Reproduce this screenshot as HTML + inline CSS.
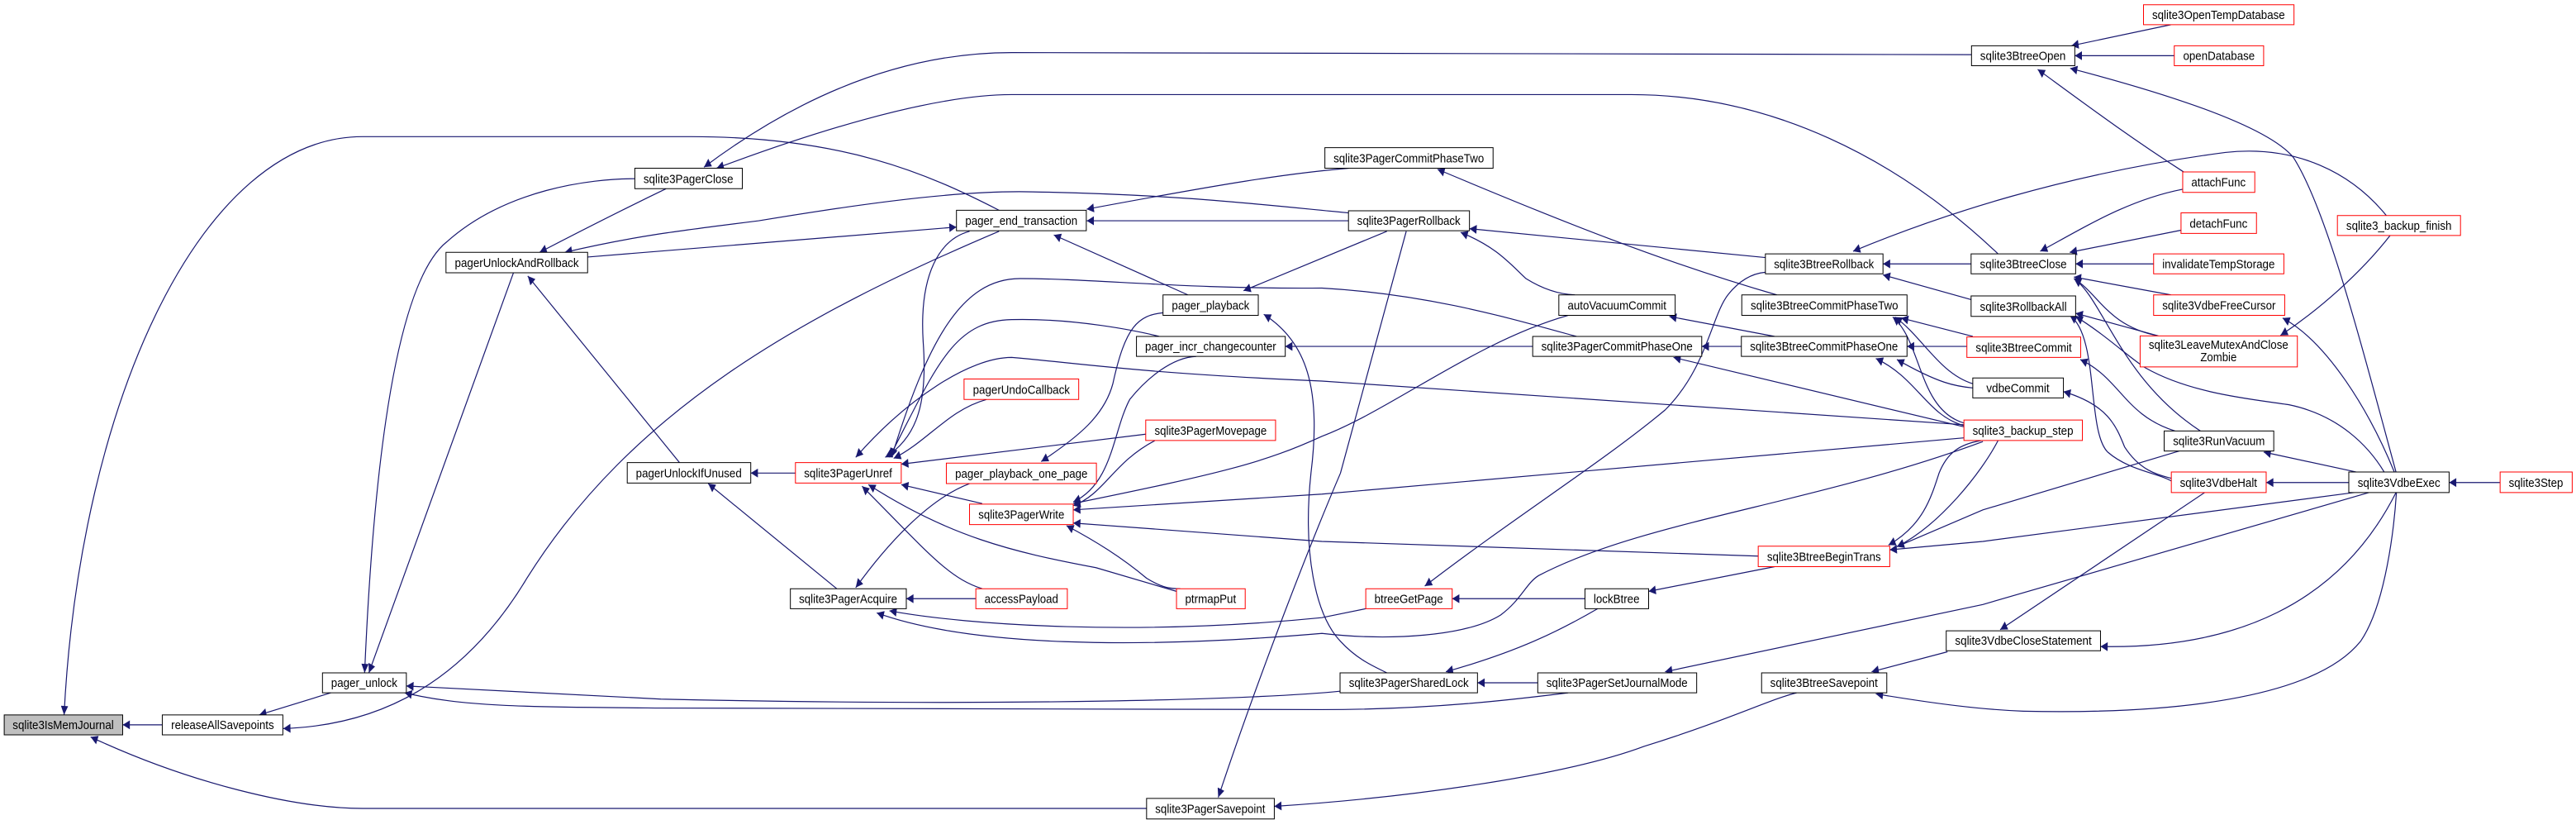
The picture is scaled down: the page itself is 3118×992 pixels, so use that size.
<!DOCTYPE html>
<html><head><meta charset="utf-8"><style>
html,body{margin:0;padding:0;background:#fff;}
svg{display:block;}
text{font-family:"Liberation Sans",sans-serif;font-size:23px;fill:#000;}
</style></head><body>
<svg width="3118" height="992" viewBox="0 0 6111 1560" preserveAspectRatio="none" xmlns="http://www.w3.org/2000/svg">
<defs>
<marker id="a" viewBox="0 0 10 10" refX="10" refY="5" markerUnits="userSpaceOnUse" markerWidth="24" markerHeight="17" orient="auto-start-reverse">
<path d="M0,0 L10,5 L0,10 z" fill="#191970"/>
</marker>
</defs>
<g fill="none" stroke="#191970" stroke-width="1.2" vector-effect="non-scaling-stroke" marker-start="url(#a)">
<path vector-effect="non-scaling-stroke" d="M291,1379 L385,1379"/>
<path vector-effect="non-scaling-stroke" d="M152,1360 C190,760 480,260 860,260 L1640,260 C2000,260 2200,330 2370,400"/>
<path vector-effect="non-scaling-stroke" d="M215,1402 C450,1490 700,1538 860,1538 L2720,1538"/>
<path vector-effect="non-scaling-stroke" d="M615,1360 L785,1318"/>
<path vector-effect="non-scaling-stroke" d="M672,1386 C900,1380 1100,1300 1250,1100 C1500,780 1900,600 2370,440"/>
<path vector-effect="non-scaling-stroke" d="M875,1280 L1218,519"/>
<path vector-effect="non-scaling-stroke" d="M865,1280 C880,1000 920,550 1060,460 C1200,360 1400,340 1506,340"/>
<path vector-effect="non-scaling-stroke" d="M964,1305 L1568,1330 C2400,1345 3000,1330 3179,1315"/>
<path vector-effect="non-scaling-stroke" d="M960,1318 C1100,1345 1250,1345 1568,1347 L3136,1350 C3400,1350 3600,1330 3720,1318"/>
<path vector-effect="non-scaling-stroke" d="M1280,480 C1400,430 1500,390 1580,359"/>
<path vector-effect="non-scaling-stroke" d="M1340,480 C1500,450 1600,440 1800,420 C2100,380 2300,362 2450,365 C2800,370 3000,390 3199,405"/>
<path vector-effect="non-scaling-stroke" d="M2269,432 L1394,489"/>
<path vector-effect="non-scaling-stroke" d="M1252,525 L1612,880"/>
<path vector-effect="non-scaling-stroke" d="M1670,318 C1850,210 2100,100 2400,100 L4677,104"/>
<path vector-effect="non-scaling-stroke" d="M1700,320 C1900,260 2200,180 2400,180 L3870,180 C4200,180 4500,300 4740,483"/>
<path vector-effect="non-scaling-stroke" d="M2578,398 C2900,350 3050,330 3200,320"/>
<path vector-effect="non-scaling-stroke" d="M2578,420 L3199,420"/>
<path vector-effect="non-scaling-stroke" d="M2500,447 L2818,561"/>
<path vector-effect="non-scaling-stroke" d="M2100,870 C2180,830 2200,760 2190,650 C2180,520 2230,455 2300,440"/>
<path vector-effect="non-scaling-stroke" d="M1781,900 L1887,900"/>
<path vector-effect="non-scaling-stroke" d="M1680,920 L1985,1120"/>
<path vector-effect="non-scaling-stroke" d="M3486,435 L4188,490"/>
<path vector-effect="non-scaling-stroke" d="M3465,442 C3550,470 3580,500 3620,530 C3660,550 3700,560 3736,561"/>
<path vector-effect="non-scaling-stroke" d="M2950,553 L3290,440"/>
<path vector-effect="non-scaling-stroke" d="M2890,1517 C2980,1300 3100,1050 3180,900 L3336,440"/>
<path vector-effect="non-scaling-stroke" d="M2998,598 C3100,650 3135,740 3110,900 C3090,1050 3120,1170 3180,1220 C3220,1255 3260,1268 3290,1280"/>
<path vector-effect="non-scaling-stroke" d="M2470,878 C2560,830 2620,790 2640,730 C2670,620 2700,600 2759,595"/>
<path vector-effect="non-scaling-stroke" d="M3049,659 L3636,659"/>
<path vector-effect="non-scaling-stroke" d="M4037,659 L4131,659"/>
<path vector-effect="non-scaling-stroke" d="M3410,322 C3700,420 3950,500 4215,561"/>
<path vector-effect="non-scaling-stroke" d="M3960,602 L4210,640"/>
<path vector-effect="non-scaling-stroke" d="M4467,502 L4676,502"/>
<path vector-effect="non-scaling-stroke" d="M4467,523 L4676,570"/>
<path vector-effect="non-scaling-stroke" d="M4396,478 C4600,410 4900,330 5279,290 C5450,275 5580,330 5661,410"/>
<path vector-effect="non-scaling-stroke" d="M4510,605 L4680,640"/>
<path vector-effect="non-scaling-stroke" d="M4495,603 C4560,640 4600,710 4680,730"/>
<path vector-effect="non-scaling-stroke" d="M4490,603 C4560,650 4550,780 4660,805"/>
<path vector-effect="non-scaling-stroke" d="M4524,659 L4666,659"/>
<path vector-effect="non-scaling-stroke" d="M4500,684 C4600,730 4640,735 4680,738"/>
<path vector-effect="non-scaling-stroke" d="M4450,682 C4550,720 4570,790 4660,810"/>
<path vector-effect="non-scaling-stroke" d="M3970,680 L4659,812"/>
<path vector-effect="non-scaling-stroke" d="M2030,870 C2150,760 2300,680 2400,680 C2550,690 2700,710 3136,725 L4659,808"/>
<path vector-effect="non-scaling-stroke" d="M2110,870 C2220,700 2260,610 2400,608 C2550,605 2700,630 2750,640"/>
<path vector-effect="non-scaling-stroke" d="M2115,870 C2200,650 2280,530 2420,530 C2600,530 2800,550 3136,548 C3400,560 3600,610 3740,640"/>
<path vector-effect="non-scaling-stroke" d="M2120,872 C2200,840 2250,780 2340,760"/>
<path vector-effect="non-scaling-stroke" d="M2138,883 L2718,826"/>
<path vector-effect="non-scaling-stroke" d="M2138,922 L2330,958"/>
<path vector-effect="non-scaling-stroke" d="M2045,925 C2200,1050 2250,1100 2330,1120"/>
<path vector-effect="non-scaling-stroke" d="M2060,922 C2250,1020 2400,1050 2600,1080 L2791,1125"/>
<path vector-effect="non-scaling-stroke" d="M2546,962 C2620,940 2640,880 2740,838"/>
<path vector-effect="non-scaling-stroke" d="M2546,955 C2640,920 2640,820 2680,760 C2720,720 2780,680 2838,678"/>
<path vector-effect="non-scaling-stroke" d="M2546,958 C2900,900 3000,880 3136,830 C3300,780 3500,650 3720,600"/>
<path vector-effect="non-scaling-stroke" d="M2546,970 L3136,940 L4659,833"/>
<path vector-effect="non-scaling-stroke" d="M2546,995 L3136,1030 L4171,1058"/>
<path vector-effect="non-scaling-stroke" d="M2530,1000 C2600,1030 2660,1060 2720,1100 C2760,1120 2780,1120 2800,1120"/>
<path vector-effect="non-scaling-stroke" d="M2150,1139 L2315,1139"/>
<path vector-effect="non-scaling-stroke" d="M2030,1118 C2100,1040 2200,950 2300,920"/>
<path vector-effect="non-scaling-stroke" d="M2110,1162 C2300,1190 2700,1210 3136,1175 L3240,1158"/>
<path vector-effect="non-scaling-stroke" d="M2080,1166 C2300,1230 2700,1235 3136,1205 C3300,1220 3480,1210 3560,1170 C3610,1140 3620,1110 3650,1095 C3900,990 4300,960 4704,840"/>
<path vector-effect="non-scaling-stroke" d="M3445,1139 L3760,1139"/>
<path vector-effect="non-scaling-stroke" d="M3380,1115 C3600,980 3800,880 3950,780 C4050,700 4060,600 4100,560 C4130,530 4160,520 4188,518"/>
<path vector-effect="non-scaling-stroke" d="M3911,1125 L4210,1078"/>
<path vector-effect="non-scaling-stroke" d="M3430,1278 C3600,1240 3700,1200 3790,1158"/>
<path vector-effect="non-scaling-stroke" d="M3505,1299 L3648,1299"/>
<path vector-effect="non-scaling-stroke" d="M3950,1278 L4704,1150 L5620,937"/>
<path vector-effect="non-scaling-stroke" d="M3023,1534 C3300,1520 3700,1480 3900,1420 C4100,1370 4200,1330 4262,1318"/>
<path vector-effect="non-scaling-stroke" d="M4440,1278 L4620,1240"/>
<path vector-effect="non-scaling-stroke" d="M4450,1320 C4600,1340 4704,1350 4800,1353 C5200,1360 5500,1320 5600,1220 C5660,1150 5680,1000 5685,937"/>
<path vector-effect="non-scaling-stroke" d="M4480,1037 C4560,1000 4580,950 4600,900 C4620,860 4650,845 4700,838"/>
<path vector-effect="non-scaling-stroke" d="M4500,1040 C4600,1000 4700,900 4740,838"/>
<path vector-effect="non-scaling-stroke" d="M4500,1040 L4704,970 L5170,858"/>
<path vector-effect="non-scaling-stroke" d="M4483,1046 L4704,1030 L5585,937"/>
<path vector-effect="non-scaling-stroke" d="M4914,87 L5150,47"/>
<path vector-effect="non-scaling-stroke" d="M4922,106 L5158,106"/>
<path vector-effect="non-scaling-stroke" d="M4834,132 C4950,200 5050,260 5180,327"/>
<path vector-effect="non-scaling-stroke" d="M4911,130 C5150,180 5380,240 5441,300 C5520,400 5600,650 5684,898"/>
<path vector-effect="non-scaling-stroke" d="M4840,478 C4950,430 5050,380 5178,360"/>
<path vector-effect="non-scaling-stroke" d="M4910,480 L5174,438"/>
<path vector-effect="non-scaling-stroke" d="M4924,502 L5109,502"/>
<path vector-effect="non-scaling-stroke" d="M4920,527 L5150,561"/>
<path vector-effect="non-scaling-stroke" d="M4920,530 C4980,560 5000,620 5120,639"/>
<path vector-effect="non-scaling-stroke" d="M4920,530 C4990,570 5030,720 5220,820"/>
<path vector-effect="non-scaling-stroke" d="M4924,596 L5120,639"/>
<path vector-effect="non-scaling-stroke" d="M4924,602 C5000,640 5050,680 5090,700 C5200,750 5350,760 5430,770 C5550,790 5620,850 5656,898"/>
<path vector-effect="non-scaling-stroke" d="M4910,600 C4980,640 4950,820 5000,860 C5050,895 5120,900 5151,915"/>
<path vector-effect="non-scaling-stroke" d="M4935,684 C5030,720 5040,790 5160,820"/>
<path vector-effect="non-scaling-stroke" d="M4895,745 C5000,770 5020,810 5040,850 C5080,900 5130,905 5151,910"/>
<path vector-effect="non-scaling-stroke" d="M5376,918 L5572,918"/>
<path vector-effect="non-scaling-stroke" d="M4745,1198 L5230,937"/>
<path vector-effect="non-scaling-stroke" d="M4983,1230 C5300,1235 5550,1150 5684,937"/>
<path vector-effect="non-scaling-stroke" d="M5370,860 L5590,898"/>
<path vector-effect="non-scaling-stroke" d="M5410,638 C5500,590 5600,520 5670,448"/>
<path vector-effect="non-scaling-stroke" d="M5415,605 C5520,650 5620,780 5680,898"/>
<path vector-effect="non-scaling-stroke" d="M5810,918 L5931,918"/>
</g>
<g stroke-width="1" vector-effect="non-scaling-stroke">
<!-- nodes: rect + text -->
<g id="nodes"></g>
</g>
<g>
<rect x="10" y="1360" width="281" height="38" fill="#bfbfbf" stroke="#000" vector-effect="non-scaling-stroke"/><text x="150" y="1387" text-anchor="middle" textLength="240" lengthAdjust="spacingAndGlyphs">sqlite3IsMemJournal</text>
<rect x="385" y="1360" width="286" height="38" fill="#fff" stroke="#000" vector-effect="non-scaling-stroke"/><text x="528" y="1387" text-anchor="middle" textLength="244" lengthAdjust="spacingAndGlyphs">releaseAllSavepoints</text>
<rect x="765" y="1280" width="199" height="38" fill="#fff" stroke="#000" vector-effect="non-scaling-stroke"/><text x="864" y="1307" text-anchor="middle" textLength="157" lengthAdjust="spacingAndGlyphs">pager_unlock</text>
<rect x="1058" y="480" width="336" height="39" fill="#fff" stroke="#000" vector-effect="non-scaling-stroke"/><text x="1226" y="508" text-anchor="middle" textLength="294" lengthAdjust="spacingAndGlyphs">pagerUnlockAndRollback</text>
<rect x="1506" y="320" width="255" height="39" fill="#fff" stroke="#000" vector-effect="non-scaling-stroke"/><text x="1633" y="348" text-anchor="middle" textLength="213" lengthAdjust="spacingAndGlyphs">sqlite3PagerClose</text>
<rect x="1488" y="880" width="293" height="39" fill="#fff" stroke="#000" vector-effect="non-scaling-stroke"/><text x="1634" y="908" text-anchor="middle" textLength="251" lengthAdjust="spacingAndGlyphs">pagerUnlockIfUnused</text>
<rect x="2269" y="400" width="308" height="39" fill="#fff" stroke="#000" vector-effect="non-scaling-stroke"/><text x="2423" y="428" text-anchor="middle" textLength="266" lengthAdjust="spacingAndGlyphs">pager_end_transaction</text>
<rect x="2759" y="561" width="226" height="39" fill="#fff" stroke="#000" vector-effect="non-scaling-stroke"/><text x="2872" y="589" text-anchor="middle" textLength="184" lengthAdjust="spacingAndGlyphs">pager_playback</text>
<rect x="2696" y="640" width="353" height="38" fill="#fff" stroke="#000" vector-effect="non-scaling-stroke"/><text x="2872" y="667" text-anchor="middle" textLength="311" lengthAdjust="spacingAndGlyphs">pager_incr_changecounter</text>
<rect x="2287" y="721" width="272" height="39" fill="#fff" stroke="#f00" vector-effect="non-scaling-stroke"/><text x="2423" y="749" text-anchor="middle" textLength="230" lengthAdjust="spacingAndGlyphs">pagerUndoCallback</text>
<rect x="2718" y="799" width="308" height="39" fill="#fff" stroke="#f00" vector-effect="non-scaling-stroke"/><text x="2872" y="827" text-anchor="middle" textLength="266" lengthAdjust="spacingAndGlyphs">sqlite3PagerMovepage</text>
<rect x="1887" y="880" width="251" height="39" fill="#fff" stroke="#f00" vector-effect="non-scaling-stroke"/><text x="2012" y="908" text-anchor="middle" textLength="209" lengthAdjust="spacingAndGlyphs">sqlite3PagerUnref</text>
<rect x="2245" y="881" width="356" height="39" fill="#fff" stroke="#f00" vector-effect="non-scaling-stroke"/><text x="2423" y="909" text-anchor="middle" textLength="314" lengthAdjust="spacingAndGlyphs">pager_playback_one_page</text>
<rect x="2300" y="959" width="246" height="39" fill="#fff" stroke="#f00" vector-effect="non-scaling-stroke"/><text x="2423" y="987" text-anchor="middle" textLength="204" lengthAdjust="spacingAndGlyphs">sqlite3PagerWrite</text>
<rect x="1875" y="1120" width="275" height="38" fill="#fff" stroke="#000" vector-effect="non-scaling-stroke"/><text x="2012" y="1147" text-anchor="middle" textLength="233" lengthAdjust="spacingAndGlyphs">sqlite3PagerAcquire</text>
<rect x="2315" y="1120" width="217" height="38" fill="#fff" stroke="#f00" vector-effect="non-scaling-stroke"/><text x="2423" y="1147" text-anchor="middle" textLength="175" lengthAdjust="spacingAndGlyphs">accessPayload</text>
<rect x="2791" y="1120" width="163" height="38" fill="#fff" stroke="#f00" vector-effect="non-scaling-stroke"/><text x="2872" y="1147" text-anchor="middle" textLength="121" lengthAdjust="spacingAndGlyphs">ptrmapPut</text>
<rect x="2720" y="1519" width="303" height="39" fill="#fff" stroke="#000" vector-effect="non-scaling-stroke"/><text x="2871" y="1547" text-anchor="middle" textLength="261" lengthAdjust="spacingAndGlyphs">sqlite3PagerSavepoint</text>
<rect x="3143" y="281" width="399" height="39" fill="#fff" stroke="#000" vector-effect="non-scaling-stroke"/><text x="3342" y="309" text-anchor="middle" textLength="357" lengthAdjust="spacingAndGlyphs">sqlite3PagerCommitPhaseTwo</text>
<rect x="3199" y="401" width="287" height="38" fill="#fff" stroke="#000" vector-effect="non-scaling-stroke"/><text x="3342" y="428" text-anchor="middle" textLength="245" lengthAdjust="spacingAndGlyphs">sqlite3PagerRollback</text>
<rect x="3698" y="561" width="276" height="39" fill="#fff" stroke="#000" vector-effect="non-scaling-stroke"/><text x="3836" y="589" text-anchor="middle" textLength="234" lengthAdjust="spacingAndGlyphs">autoVacuumCommit</text>
<rect x="3636" y="640" width="401" height="38" fill="#fff" stroke="#000" vector-effect="non-scaling-stroke"/><text x="3836" y="667" text-anchor="middle" textLength="359" lengthAdjust="spacingAndGlyphs">sqlite3PagerCommitPhaseOne</text>
<rect x="4188" y="483" width="279" height="38" fill="#fff" stroke="#000" vector-effect="non-scaling-stroke"/><text x="4327" y="510" text-anchor="middle" textLength="237" lengthAdjust="spacingAndGlyphs">sqlite3BtreeRollback</text>
<rect x="4132" y="561" width="392" height="39" fill="#fff" stroke="#000" vector-effect="non-scaling-stroke"/><text x="4328" y="589" text-anchor="middle" textLength="350" lengthAdjust="spacingAndGlyphs">sqlite3BtreeCommitPhaseTwo</text>
<rect x="4131" y="640" width="393" height="38" fill="#fff" stroke="#000" vector-effect="non-scaling-stroke"/><text x="4327" y="667" text-anchor="middle" textLength="351" lengthAdjust="spacingAndGlyphs">sqlite3BtreeCommitPhaseOne</text>
<rect x="4171" y="1039" width="312" height="39" fill="#fff" stroke="#f00" vector-effect="non-scaling-stroke"/><text x="4327" y="1067" text-anchor="middle" textLength="270" lengthAdjust="spacingAndGlyphs">sqlite3BtreeBeginTrans</text>
<rect x="3240" y="1120" width="205" height="38" fill="#fff" stroke="#f00" vector-effect="non-scaling-stroke"/><text x="3342" y="1147" text-anchor="middle" textLength="163" lengthAdjust="spacingAndGlyphs">btreeGetPage</text>
<rect x="3760" y="1120" width="151" height="38" fill="#fff" stroke="#000" vector-effect="non-scaling-stroke"/><text x="3835" y="1147" text-anchor="middle" textLength="109" lengthAdjust="spacingAndGlyphs">lockBtree</text>
<rect x="3179" y="1280" width="326" height="38" fill="#fff" stroke="#000" vector-effect="non-scaling-stroke"/><text x="3342" y="1307" text-anchor="middle" textLength="284" lengthAdjust="spacingAndGlyphs">sqlite3PagerSharedLock</text>
<rect x="3648" y="1280" width="377" height="38" fill="#fff" stroke="#000" vector-effect="non-scaling-stroke"/><text x="3836" y="1307" text-anchor="middle" textLength="335" lengthAdjust="spacingAndGlyphs">sqlite3PagerSetJournalMode</text>
<rect x="4179" y="1280" width="297" height="38" fill="#fff" stroke="#000" vector-effect="non-scaling-stroke"/><text x="4327" y="1307" text-anchor="middle" textLength="255" lengthAdjust="spacingAndGlyphs">sqlite3BtreeSavepoint</text>
<rect x="4677" y="87" width="245" height="38" fill="#fff" stroke="#000" vector-effect="non-scaling-stroke"/><text x="4799" y="114" text-anchor="middle" textLength="203" lengthAdjust="spacingAndGlyphs">sqlite3BtreeOpen</text>
<rect x="5085" y="9" width="357" height="38" fill="#fff" stroke="#f00" vector-effect="non-scaling-stroke"/><text x="5263" y="36" text-anchor="middle" textLength="315" lengthAdjust="spacingAndGlyphs">sqlite3OpenTempDatabase</text>
<rect x="5158" y="87" width="212" height="38" fill="#fff" stroke="#f00" vector-effect="non-scaling-stroke"/><text x="5264" y="114" text-anchor="middle" textLength="170" lengthAdjust="spacingAndGlyphs">openDatabase</text>
<rect x="5178" y="327" width="171" height="39" fill="#fff" stroke="#f00" vector-effect="non-scaling-stroke"/><text x="5263" y="355" text-anchor="middle" textLength="129" lengthAdjust="spacingAndGlyphs">attachFunc</text>
<rect x="5174" y="405" width="179" height="39" fill="#fff" stroke="#f00" vector-effect="non-scaling-stroke"/><text x="5263" y="433" text-anchor="middle" textLength="137" lengthAdjust="spacingAndGlyphs">detachFunc</text>
<rect x="5545" y="410" width="292" height="38" fill="#fff" stroke="#f00" vector-effect="non-scaling-stroke"/><text x="5691" y="437" text-anchor="middle" textLength="250" lengthAdjust="spacingAndGlyphs">sqlite3_backup_finish</text>
<rect x="4676" y="483" width="248" height="38" fill="#fff" stroke="#000" vector-effect="non-scaling-stroke"/><text x="4800" y="510" text-anchor="middle" textLength="206" lengthAdjust="spacingAndGlyphs">sqlite3BtreeClose</text>
<rect x="5109" y="483" width="309" height="38" fill="#fff" stroke="#f00" vector-effect="non-scaling-stroke"/><text x="5263" y="510" text-anchor="middle" textLength="267" lengthAdjust="spacingAndGlyphs">invalidateTempStorage</text>
<rect x="5109" y="561" width="311" height="39" fill="#fff" stroke="#f00" vector-effect="non-scaling-stroke"/><text x="5264" y="589" text-anchor="middle" textLength="269" lengthAdjust="spacingAndGlyphs">sqlite3VdbeFreeCursor</text>
<rect x="4676" y="563" width="248" height="39" fill="#fff" stroke="#000" vector-effect="non-scaling-stroke"/><text x="4800" y="591" text-anchor="middle" textLength="206" lengthAdjust="spacingAndGlyphs">sqlite3RollbackAll</text>
<rect x="5077" y="639" width="373" height="59" fill="#fff" stroke="#f00" vector-effect="non-scaling-stroke"/><text x="5263" y="664" text-anchor="middle" textLength="331" lengthAdjust="spacingAndGlyphs">sqlite3LeaveMutexAndClose</text><text x="5263" y="687" text-anchor="middle" textLength="86" lengthAdjust="spacingAndGlyphs">Zombie</text>
<rect x="4666" y="641" width="270" height="39" fill="#fff" stroke="#f00" vector-effect="non-scaling-stroke"/><text x="4801" y="669" text-anchor="middle" textLength="228" lengthAdjust="spacingAndGlyphs">sqlite3BtreeCommit</text>
<rect x="4680" y="719" width="215" height="38" fill="#fff" stroke="#000" vector-effect="non-scaling-stroke"/><text x="4787" y="746" text-anchor="middle" textLength="150" lengthAdjust="spacingAndGlyphs">vdbeCommit</text>
<rect x="4659" y="799" width="281" height="39" fill="#fff" stroke="#f00" vector-effect="non-scaling-stroke"/><text x="4799" y="827" text-anchor="middle" textLength="239" lengthAdjust="spacingAndGlyphs">sqlite3_backup_step</text>
<rect x="5134" y="820" width="260" height="38" fill="#fff" stroke="#000" vector-effect="non-scaling-stroke"/><text x="5264" y="847" text-anchor="middle" textLength="218" lengthAdjust="spacingAndGlyphs">sqlite3RunVacuum</text>
<rect x="5151" y="898" width="225" height="39" fill="#fff" stroke="#f00" vector-effect="non-scaling-stroke"/><text x="5263" y="926" text-anchor="middle" textLength="183" lengthAdjust="spacingAndGlyphs">sqlite3VdbeHalt</text>
<rect x="5572" y="898" width="238" height="39" fill="#fff" stroke="#000" vector-effect="non-scaling-stroke"/><text x="5691" y="926" text-anchor="middle" textLength="196" lengthAdjust="spacingAndGlyphs">sqlite3VdbeExec</text>
<rect x="5931" y="898" width="171" height="39" fill="#fff" stroke="#f00" vector-effect="non-scaling-stroke"/><text x="6016" y="926" text-anchor="middle" textLength="129" lengthAdjust="spacingAndGlyphs">sqlite3Step</text>
<rect x="4617" y="1200" width="366" height="38" fill="#fff" stroke="#000" vector-effect="non-scaling-stroke"/><text x="4800" y="1227" text-anchor="middle" textLength="324" lengthAdjust="spacingAndGlyphs">sqlite3VdbeCloseStatement</text>
</g>
</svg>
</body></html>
